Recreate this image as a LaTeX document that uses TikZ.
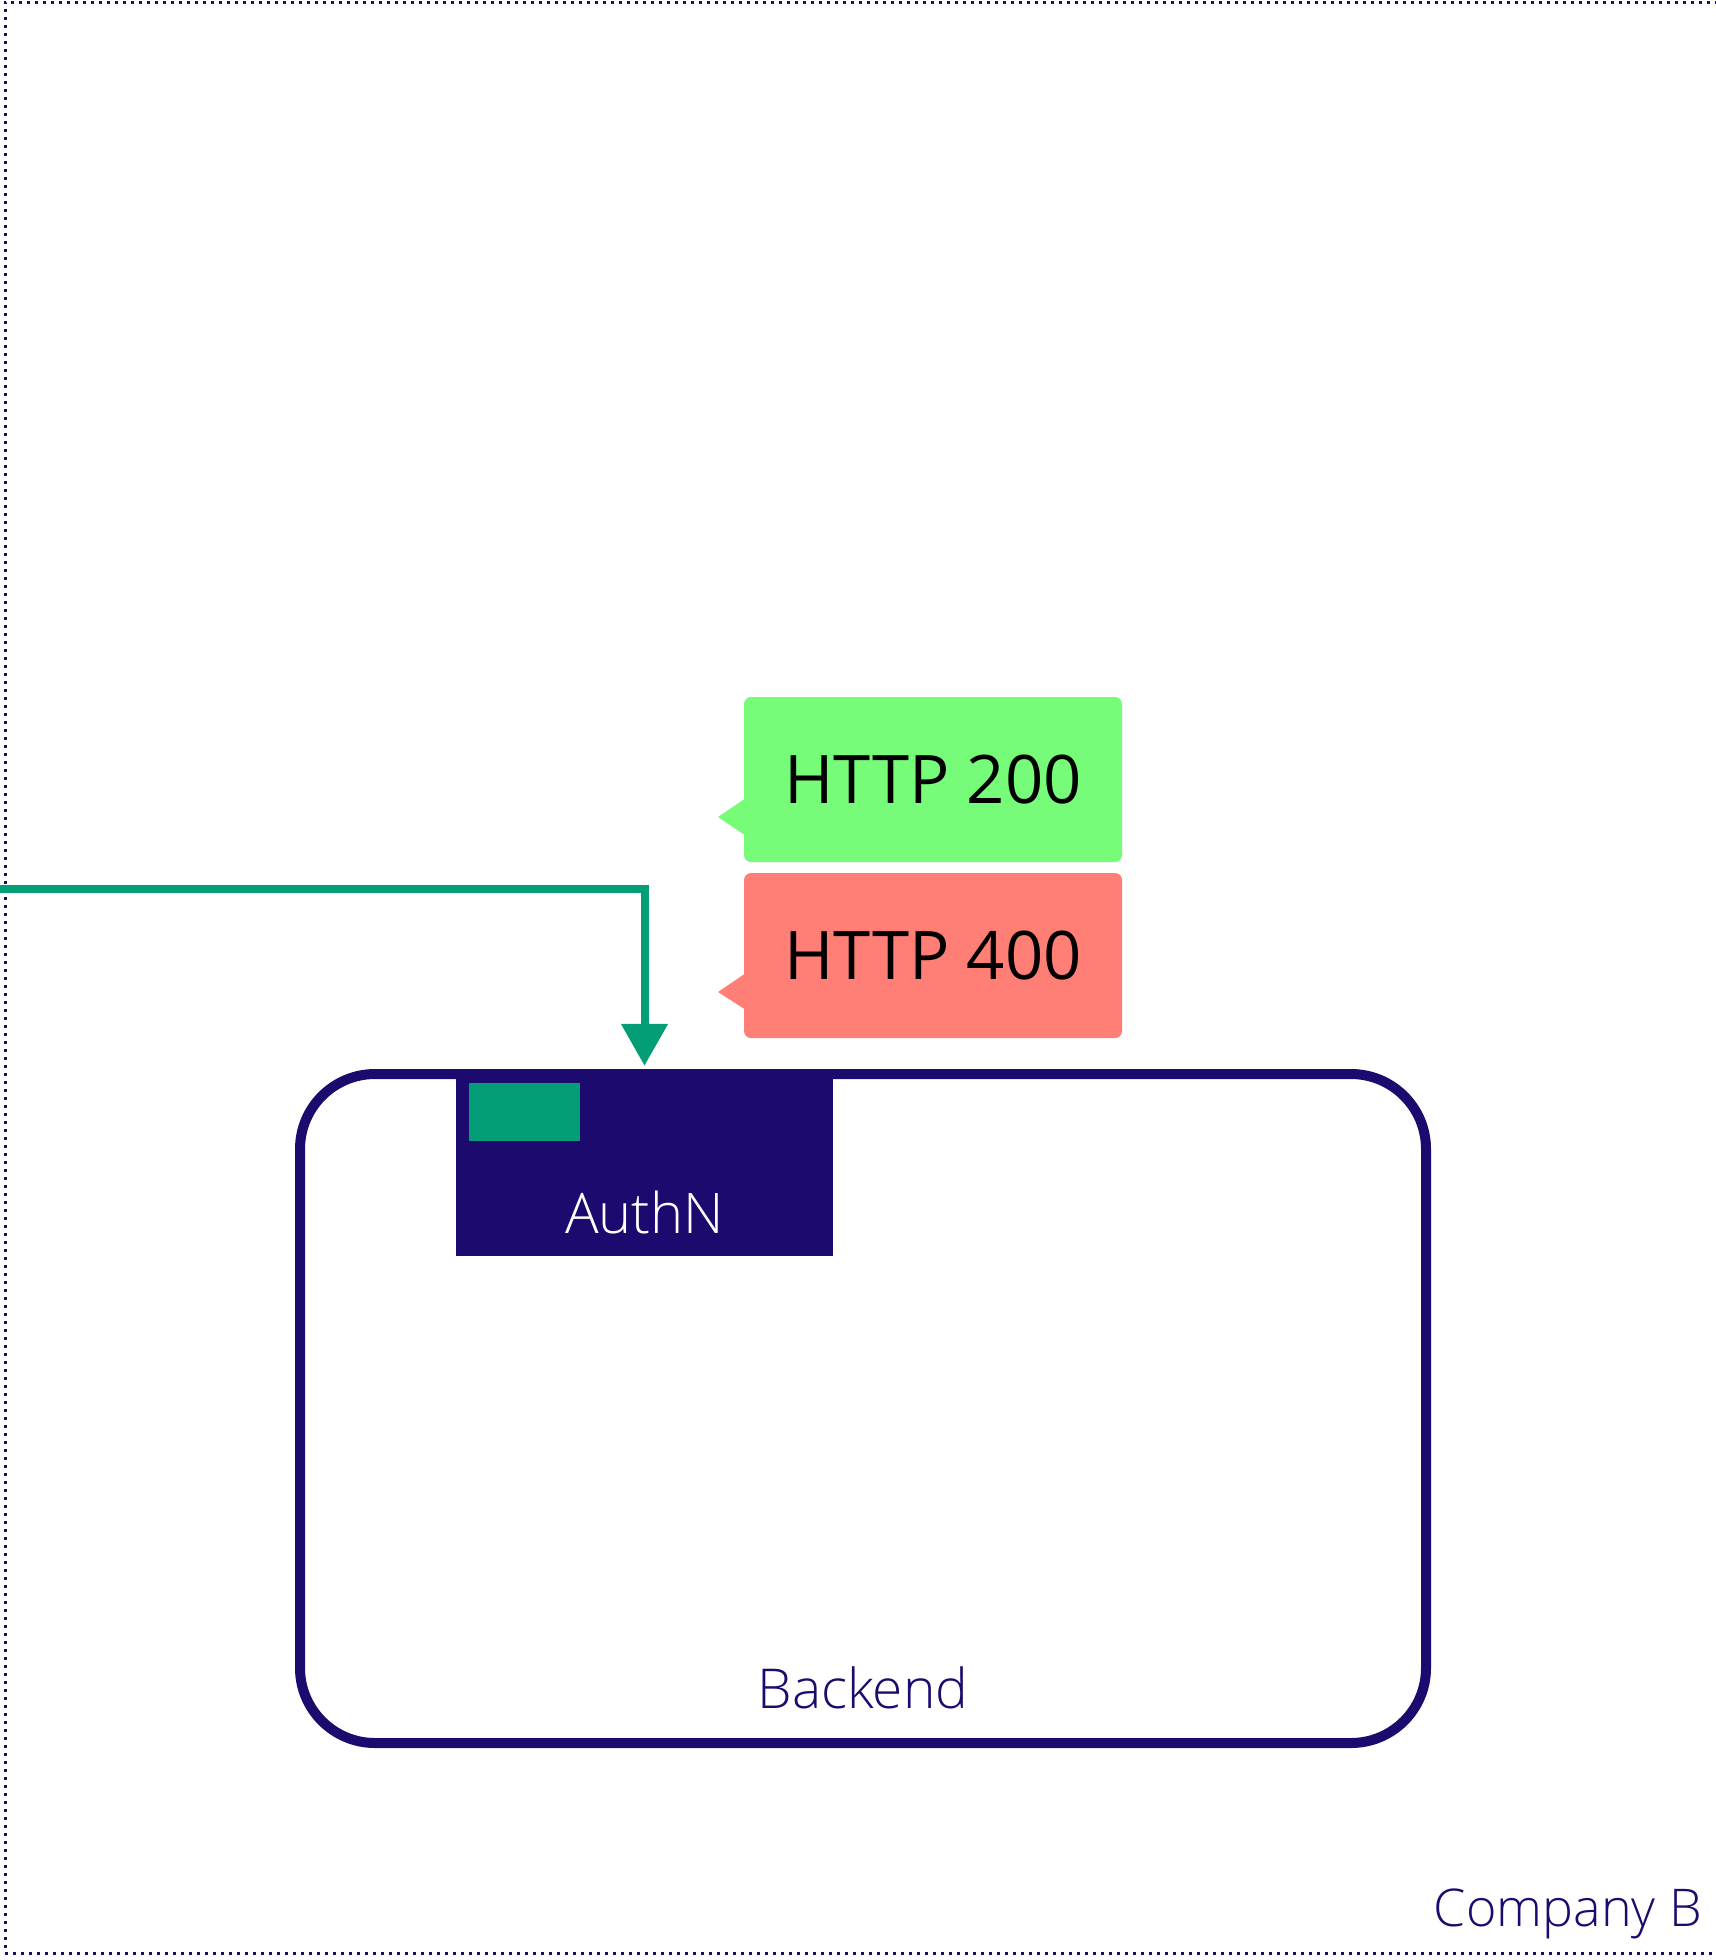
\documentclass[tikz,border=0pt]{standalone}
\usepackage{fontspec}
\setmainfont{Open Sans}
\newfontfamily\lightfont{Open Sans Light}
\usetikzlibrary{arrows.meta}
\definecolor{navy}{RGB}{28,10,110}
\definecolor{arrowgreen}{RGB}{3,158,118}
\definecolor{okgreen}{RGB}{119,252,122}
\definecolor{errred}{RGB}{255,127,118}
\begin{document}
\begin{tikzpicture}[x=1pt,y=-1pt,
  framebox/.style={draw=navy, line width=3pt, dash pattern=on 3pt off 5pt, inner sep=0pt},
  backendbox/.style={draw=navy, line width=10pt, rounded corners=75pt, inner sep=0pt},
  authnbox/.style={fill=navy, inner sep=0pt},
  badge/.style={fill=arrowgreen, inner sep=0pt},
  callout/.style={rounded corners=7pt, inner sep=0pt, minimum width=378pt, minimum height=165pt, font=\fontsize{67}{78}\selectfont, text=black},
  flow/.style={draw=arrowgreen, line width=8pt, -{Triangle[width=45pt,length=42pt]}},
  lightlabel/.style={inner sep=0pt, font=\lightfont\fontsize{55}{66}\selectfont}
]
\useasboundingbox (0,0) rectangle (1716,1960);
\fill[white] (0,0) rectangle (1716,1960);

\node[framebox, minimum width=1725pt, minimum height=1951pt] (companyb) at (867.5,977.5) {};
\node[lightlabel, text=navy, anchor=base east, font=\lightfont\fontsize{52}{62}\selectfont] (companyblabel) at (1702,1926) {Company B};

\node[backendbox, minimum width=1126pt, minimum height=669pt] (backend) at (863,1408.5) {};
\node[lightlabel, text=navy, anchor=base] (backendlabel) at (863,1708) {Backend};

\node[authnbox, minimum width=377pt, minimum height=185pt] (authn) at (644.5,1163.5) {};
\node[badge, minimum width=111pt, minimum height=58pt] (authnbadge) at (524.5,1112) {};
\node[lightlabel, text=white, anchor=base, font=\lightfont\fontsize{56}{66}\selectfont] (authnlabel) at (644.5,1233) {AuthN};

\fill[okgreen] (746,798) -- (718,817) -- (746,836) -- cycle;
\node[callout, fill=okgreen] (ok) at (933,779.5) {HTTP 200};
\fill[errred] (746,973) -- (718,992) -- (746,1010) -- cycle;
\node[callout, fill=errred] (err) at (933,955.5) {HTTP 400};

\coordinate (src) at (0,889);
\draw[flow, shorten >=5pt] (src) -| (authn.north);
\end{tikzpicture}
\end{document}
